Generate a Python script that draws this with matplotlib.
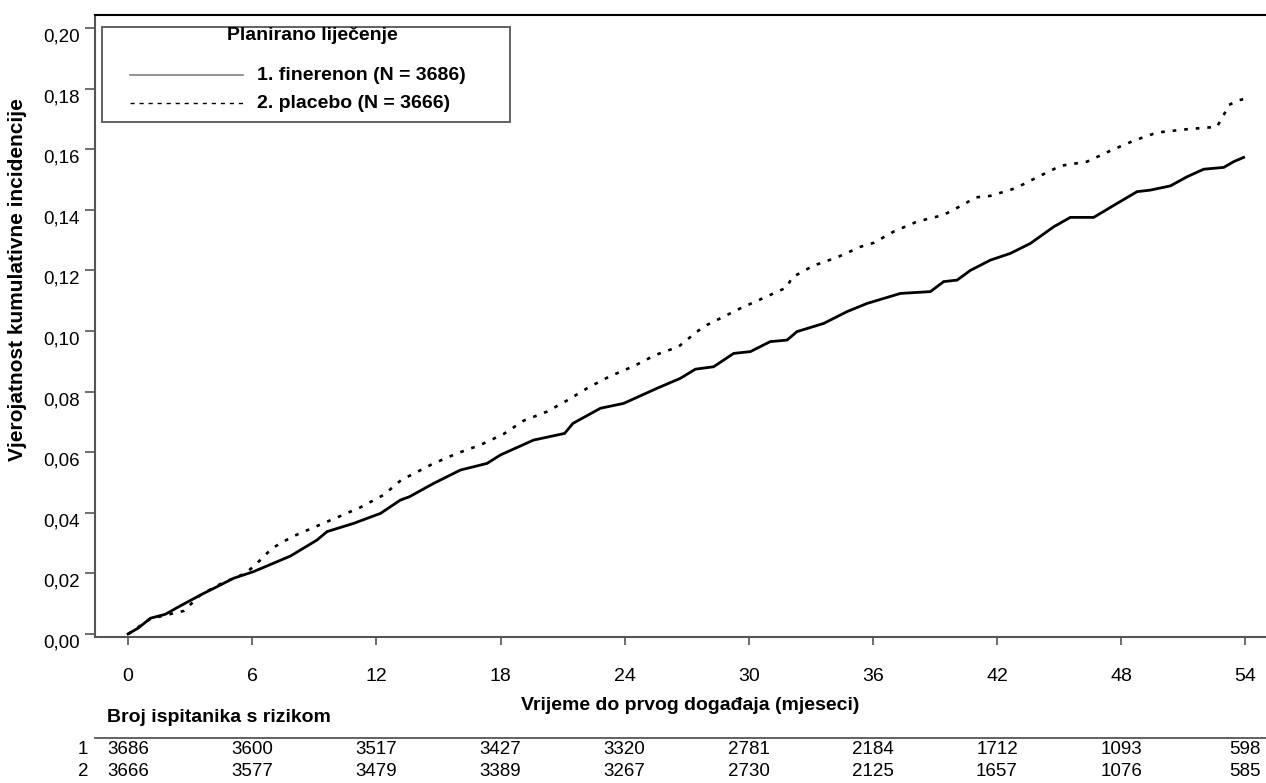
import matplotlib
matplotlib.use("Agg")
from matplotlib import pyplot as plt
from matplotlib.lines import Line2D
from matplotlib.patches import Rectangle
from matplotlib.transforms import blended_transform_factory, ScaledTranslation
import numpy as np

plt.rcParams['font.family'] = ['Liberation Sans', 'DejaVu Sans']

# cumulative incidence (months, probability)
fin_months = [0, 0.5, 1.08, 1.8, 2.53, 3.65, 3.98, 5.1, 5.59, 6.07, 7.84, 9.13, 9.62, 10.9,
              12.2, 13.16, 13.6, 14.05, 14.77, 16.06, 17.35, 18.0, 19.6, 21.1, 21.5, 22.83,
              23.95, 25.57, 26.7, 27.42, 28.3, 29.27, 30.08, 31.04, 31.85, 32.33, 33.62,
              34.75, 35.72, 37.33, 38.78, 39.42, 40.07, 40.71, 41.68, 42.64, 43.61, 44.74,
              45.54, 46.67, 47.8, 48.77, 49.41, 50.38, 51.18, 51.99, 52.96, 53.44, 53.92]
fin_cum = [0, 0.002, 0.0052, 0.0065, 0.0093, 0.0134, 0.0145, 0.0184, 0.0195, 0.0206, 0.0257,
           0.031, 0.0338, 0.0365, 0.0398, 0.0442, 0.0453, 0.047, 0.0497, 0.0541, 0.0563,
           0.0591, 0.064, 0.0662, 0.0695, 0.0745, 0.0761, 0.0811, 0.0844, 0.0874, 0.0882,
           0.0926, 0.0932, 0.0965, 0.097, 0.0998, 0.1025, 0.1064, 0.1091, 0.1124, 0.113,
           0.1163, 0.1168, 0.120, 0.1234, 0.1256, 0.1289, 0.1344, 0.1375, 0.1375, 0.1421,
           0.146, 0.1465, 0.1479, 0.1509, 0.1534, 0.154, 0.1559, 0.1573]

pla_months = [0, 1.08, 2.0, 2.69, 3.5, 4.6, 5.67, 6.15, 6.96, 7.93, 9.05, 10.18, 11.23, 12.35,
              13.2, 14.77, 15.9, 17.03, 18.15, 19.12, 20.25, 21.2, 22.26, 23.3, 24.44, 25.49,
              26.6, 27.5, 27.98, 29.6, 31.2, 31.84, 32.09, 33.14, 34.27, 35.4, 36.04, 37.0,
              38.13, 39.42, 40.47, 40.95, 41.68, 42.88, 43.93, 45.06, 46.35, 47.48, 48.6,
              49.73, 51.18, 52.63, 52.96, 53.2, 53.7, 53.9]
pla_cum = [0, 0.005, 0.0065, 0.0076, 0.0129, 0.017, 0.020, 0.0228, 0.0283, 0.0321, 0.0354,
           0.0387, 0.0418, 0.0459, 0.0508, 0.0563, 0.0596, 0.0624, 0.066, 0.0704, 0.0734,
           0.077, 0.0814, 0.0851, 0.0884, 0.0921, 0.0948, 0.0998, 0.102, 0.1075, 0.1124,
           0.1144, 0.1177, 0.1216, 0.1243, 0.1278, 0.1291, 0.1328, 0.1361, 0.1383, 0.1421,
           0.1441, 0.1446, 0.1471, 0.1507, 0.1545, 0.1559, 0.1595, 0.1628, 0.1655, 0.1666,
           0.1674, 0.1713, 0.1746, 0.1762, 0.1765]

# number at risk table
risk_times = [0, 6, 12, 18, 24, 30, 36, 42, 48, 54]
risk_fin = [3686, 3600, 3517, 3427, 3320, 2781, 2184, 1712, 1093, 598]
risk_pla = [3666, 3577, 3479, 3389, 3267, 2730, 2125, 1657, 1076, 585]

x_ticks = [0, 6, 12, 18, 24, 30, 36, 42, 48, 54]
y_ticks = [0.00, 0.02, 0.04, 0.06, 0.08, 0.10, 0.12, 0.14, 0.16, 0.18, 0.20]

W, H = 1266, 783
fig = plt.figure(figsize=(W / 100, H / 100), dpi=100)
ax = fig.add_axes([95 / W, 1 - 637 / H, 1 - 95 / W, (637 - 15) / H])

ax.plot(fin_months, fin_cum, color='black', lw=2.0, solid_joinstyle='miter')
ax.plot(pla_months, pla_cum, color='black', lw=1.9, linestyle=(0, (1.4, 3.0)))

ax.set_xlim(-1.6, 55.0)
ax.set_ylim(-0.001, 0.2043)
ax.set_xticks(x_ticks)
ax.set_yticks(y_ticks)
ax.set_yticklabels([('%.2f' % v).replace('.', ',') for v in y_ticks])
ax.tick_params(axis='x', length=6, width=1.2, pad=16, labelsize=14, color='#555555')
ax.tick_params(axis='y', length=7, width=1.2, pad=4, labelsize=13.5, color='#555555')
# y labels sit a little below their ticks in the original
shift = ScaledTranslation(0, -7 / 100, fig.dpi_scale_trans)
for lab in ax.get_yticklabels():
    lab.set_transform(lab.get_transform() + shift)

ax.spines['right'].set_visible(False)
ax.spines['top'].set_color('black')
ax.spines['top'].set_linewidth(1.5)
for s in ['left', 'bottom']:
    ax.spines[s].set_color('#555555')
    ax.spines[s].set_linewidth(1.5)

# axis titles
fig.text(690 / W, 1 - 705 / H, 'Vrijeme do prvog događaja (mjeseci)', fontsize=14,
         fontweight='bold', ha='center', va='center')
fig.text(18 / W, 1 - 280 / H, 'Vjerojatnost kumulativne incidencije', fontsize=15,
         fontweight='bold', ha='center', va='center', rotation=90)

# legend box
fig.patches.append(Rectangle((102 / W, 1 - 122 / H), 408 / W, 95 / H, transform=fig.transFigure,
                             facecolor='white', edgecolor='#555555', lw=1.3, zorder=5))
fig.text(312 / W, 1 - 35 / H, 'Planirano liječenje', fontsize=14, fontweight='bold',
         ha='center', va='center', zorder=6)
fig.lines.append(Line2D([130 / W, 243 / W], [1 - 75 / H, 1 - 75 / H], transform=fig.transFigure,
                        color='#808080', lw=1.2, zorder=6))
fig.lines.append(Line2D([130 / W, 243 / W], [1 - 103 / H, 1 - 103 / H], transform=fig.transFigure,
                        color='black', lw=1.0, linestyle=(0, (3, 3.5)), zorder=6))
fig.text(257 / W, 1 - 75 / H, '1. finerenon (N = 3686)', fontsize=14, fontweight='bold',
         ha='left', va='center', zorder=6)
fig.text(257 / W, 1 - 103 / H, '2. placebo (N = 3666)', fontsize=14, fontweight='bold',
         ha='left', va='center', zorder=6)

# number at risk
tr = blended_transform_factory(ax.transData, fig.transFigure)
fig.text(107 / W, 1 - 717 / H, 'Broj ispitanika s rizikom', fontsize=14, fontweight='bold',
         ha='left', va='center')
fig.lines.append(Line2D([95 / W, 1.0], [1 - 738 / H, 1 - 738 / H], transform=fig.transFigure,
                        color='#555555', lw=1.3))
fig.text(83 / W, 1 - 749 / H, '1', fontsize=13.5, ha='center', va='center')
fig.text(83 / W, 1 - 772 / H, '2', fontsize=13.5, ha='center', va='center')
for t, a, b in zip(risk_times, risk_fin, risk_pla):
    fig.text(t, 1 - 749 / H, str(a), fontsize=13.5, ha='center', va='center', transform=tr)
    fig.text(t, 1 - 772 / H, str(b), fontsize=13.5, ha='center', va='center', transform=tr)

fig.savefig('out.png', dpi=100)
